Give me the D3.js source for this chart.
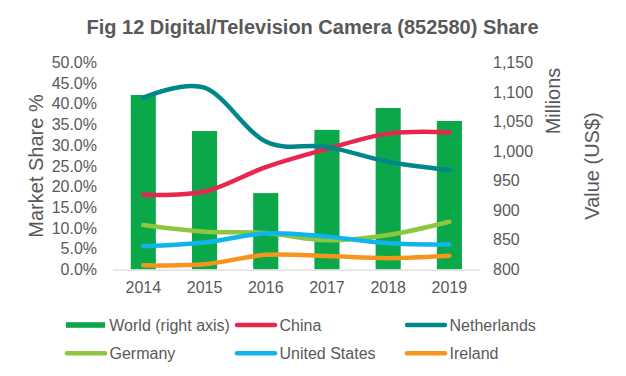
<!DOCTYPE html>
<html><head><meta charset="utf-8">
<script src="https://cdn.jsdelivr.net/npm/d3@7/dist/d3.min.js"></script>
<style>body{margin:0;background:#fff}text{font-family:"Liberation Sans",Arial,sans-serif;fill:#595959}</style>
</head><body><svg id="c" width="626" height="376"></svg>
<script>
const years = ["2014","2015","2016","2017","2018","2019"];
const world = [1095, 1034, 929, 1036, 1073, 1051];
const china = [18.0, 18.8, 24.7, 29.1, 32.8, 33.1];
const netherlands = [41.5, 43.9, 30.9, 29.6, 26.0, 24.0];
const germany = [10.7, 9.1, 8.8, 7.0, 8.3, 11.5];
const unitedStates = [5.6, 6.5, 8.7, 7.9, 6.3, 6.0];
const ireland = [1.0, 1.2, 3.5, 3.2, 2.7, 3.3];
const leftTicks = [0,0.05,0.1,0.15,0.2,0.25,0.3,0.35,0.4,0.45,0.5];
const rightTicks = [800,850,900,950,1000,1050,1100,1150];

const series = [
  {name:"China", values:china, color:"#E8264F"},
  {name:"Netherlands", values:netherlands, color:"#00878A"},
  {name:"Germany", values:germany, color:"#8DC63F"},
  {name:"United States", values:unitedStates, color:"#0FB4EC"},
  {name:"Ireland", values:ireland, color:"#F7941D"}
];
const worldColor = "#0BA84A";

const svg = d3.select("#c");
const x = d3.scaleBand().domain(years).range([112.7, 480]).padding(0);
const yL = d3.scaleLinear().domain([0, 0.5]).range([269.3, 62.5]);
const yR = d3.scaleLinear().domain([800, 1150]).range([269.3, 62.5]);
const cx = d => x(d) + x.bandwidth()/2;
const bw = x.bandwidth()*0.41;

// title
svg.append("text").attr("x",312.5).attr("y",34).attr("text-anchor","middle")
  .style("font-size","20px").style("font-weight","bold")
  .text("Fig 12 Digital/Television Camera (852580) Share");

// bars
svg.append("g").selectAll("rect").data(years).join("rect")
  .attr("x", d => cx(d)-bw/2).attr("width", bw)
  .attr("y", (d,i) => yR(world[i])).attr("height", (d,i) => yR(800)-yR(world[i]))
  .attr("fill", worldColor);

// x axis line
const xAxis = svg.append("g").attr("transform","translate(0,269.6)")
  .call(d3.axisBottom(x).tickSize(0).tickPadding(12));
xAxis.select(".domain").attr("stroke","#d9d9d9").attr("stroke-width",1.3);
xAxis.selectAll("text").style("font-size","16px").style("fill","#595959")
  .style("font-family","Liberation Sans, Arial, sans-serif");

// left axis
const la = svg.append("g").attr("transform","translate(97,0)")
  .call(d3.axisLeft(yL).tickValues(leftTicks).tickFormat(d3.format(".1%")).tickSize(0).tickPadding(0));
la.select(".domain").remove();
la.selectAll("text").style("font-size","16px").style("fill","#595959")
  .style("font-family","Liberation Sans, Arial, sans-serif");

// right axis
const ra = svg.append("g").attr("transform","translate(493,0)")
  .call(d3.axisRight(yR).tickValues(rightTicks).tickFormat(d3.format(",")).tickSize(0).tickPadding(0));
ra.select(".domain").remove();
ra.selectAll("text").style("font-size","16px").style("fill","#595959")
  .style("font-family","Liberation Sans, Arial, sans-serif");

// axis titles
svg.append("text").attr("transform","translate(43,166) rotate(-90)").attr("text-anchor","middle")
  .style("font-size","20px").text("Market Share %");
svg.append("text").attr("transform","translate(560,101) rotate(-90)").attr("text-anchor","middle")
  .style("font-size","20px").text("Millions");
svg.append("text").attr("transform","translate(599,166) rotate(-90)").attr("text-anchor","middle")
  .style("font-size","20px").text("Value (US$)");

// lines
const line = d3.line().x((d,i) => cx(years[i])).y(d => yL(d/100)).curve(d3.curveCardinal.tension(0));
svg.append("g").selectAll("path").data(series).join("path")
  .attr("d", s => line(s.values)).attr("fill","none")
  .attr("stroke", s => s.color).attr("stroke-width",4.5).attr("stroke-linecap","round");

// legend
const legendItems = [
  {name:"World (right axis)", color:worldColor, bar:true, x:66, y:325},
  {name:"China", color:series[0].color, x:235, y:325},
  {name:"Netherlands", color:series[1].color, x:405, y:325},
  {name:"Germany", color:series[2].color, x:65, y:353.3},
  {name:"United States", color:series[3].color, x:235, y:353.3},
  {name:"Ireland", color:series[4].color, x:405, y:353.3}
];
const lg = svg.append("g").selectAll("g").data(legendItems).join("g");
lg.each(function(d){
  const g = d3.select(this);
  if (d.bar) {
    g.append("rect").attr("x",d.x).attr("y",d.y-2.8).attr("width",39).attr("height",5.6).attr("fill",d.color);
  } else {
    g.append("line").attr("x1",d.x+2).attr("x2",d.x+40).attr("y1",d.y).attr("y2",d.y)
      .attr("stroke",d.color).attr("stroke-width",4.5).attr("stroke-linecap","round");
  }
  g.append("text").attr("x", d.bar ? d.x+43.3 : d.x+44.5).attr("y",d.y).attr("dy","0.35em")
    .style("font-size","16px").text(d.name);
});
</script></body></html>
